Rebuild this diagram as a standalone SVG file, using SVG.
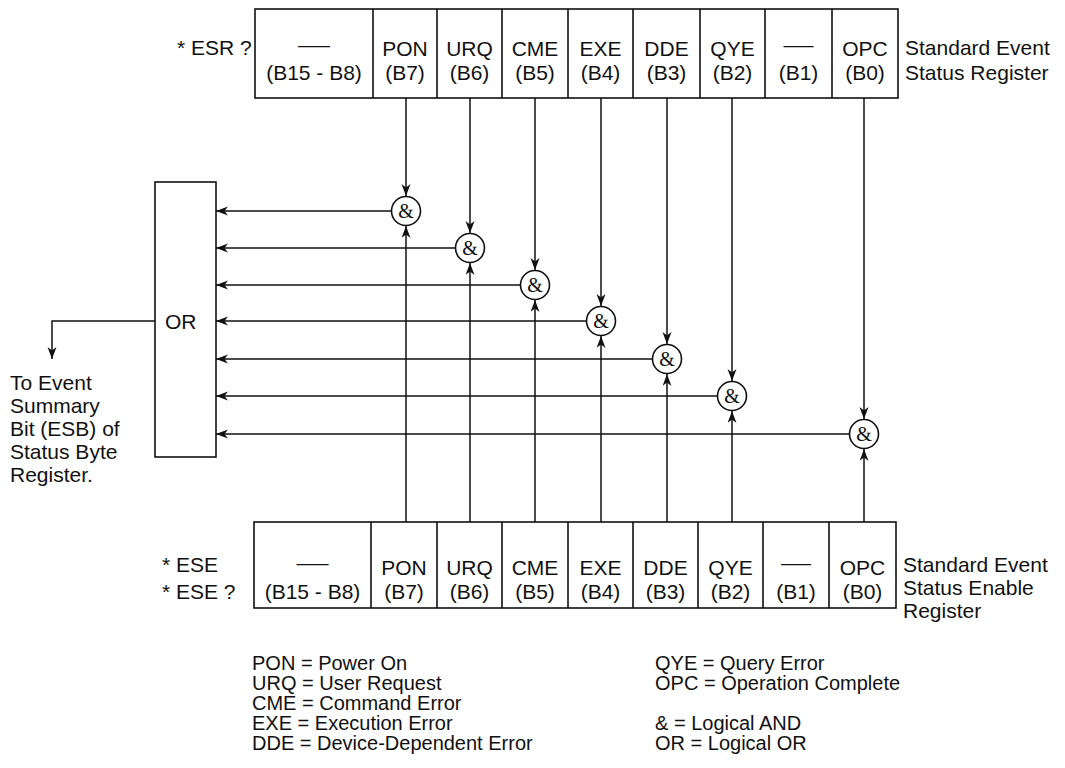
<svg xmlns="http://www.w3.org/2000/svg" width="1065" height="768" viewBox="0 0 1065 768">
<style>
  .box{fill:none;stroke:#111;stroke-width:1.6}
  .t{font-family:"Liberation Sans","Open Sans",sans-serif;font-size:21px;fill:#111}
  .c{text-anchor:middle}
  .lg{font-family:"Liberation Sans","Open Sans",sans-serif;font-size:20px;fill:#111}
  .amp{font-family:"Liberation Serif","DejaVu Serif",serif;font-size:20px;fill:#111;text-anchor:middle}
  .gate{fill:#fff;stroke:#111;stroke-width:1.6}
  .ln{fill:none;stroke:#111;stroke-width:1.5;marker-end:url(#arr)}
</style>
<defs>
  <marker id="arr" markerUnits="userSpaceOnUse" markerWidth="13" markerHeight="10" refX="12" refY="4.5" orient="auto">
    <path d="M0,0 L12,4.5 L0,9 L3.5,4.5 z" fill="#111"/>
  </marker>
</defs>
<rect width="1065" height="768" fill="#fff"/>

<g id="connectors">
  <line class="ln" x1="406" y1="98" x2="406" y2="196"/>
  <line class="ln" x1="470" y1="98" x2="470" y2="233"/>
  <line class="ln" x1="535" y1="98" x2="535" y2="270"/>
  <line class="ln" x1="601" y1="98" x2="601" y2="306"/>
  <line class="ln" x1="667" y1="98" x2="667" y2="344"/>
  <line class="ln" x1="732" y1="98" x2="732" y2="381"/>
  <line class="ln" x1="864" y1="98" x2="864" y2="419"/>
  <line class="ln" x1="406" y1="522" x2="406" y2="226"/>
  <line class="ln" x1="470" y1="522" x2="470" y2="263"/>
  <line class="ln" x1="535" y1="522" x2="535" y2="300"/>
  <line class="ln" x1="601" y1="522" x2="601" y2="336"/>
  <line class="ln" x1="667" y1="522" x2="667" y2="374"/>
  <line class="ln" x1="732" y1="522" x2="732" y2="411"/>
  <line class="ln" x1="864" y1="522" x2="864" y2="449"/>
  <line class="ln" x1="391" y1="211" x2="216" y2="211"/>
  <line class="ln" x1="455" y1="248" x2="216" y2="248"/>
  <line class="ln" x1="520" y1="285" x2="216" y2="285"/>
  <line class="ln" x1="586" y1="321" x2="216" y2="321"/>
  <line class="ln" x1="652" y1="359" x2="216" y2="359"/>
  <line class="ln" x1="717" y1="396" x2="216" y2="396"/>
  <line class="ln" x1="849" y1="434" x2="216" y2="434"/>
  <polyline class="ln" points="155,321 52,321 52,359"/>
</g>

<g id="esr-register">
  <rect class="box" x="255" y="9" width="643" height="89"/>
  <path class="box" d="M373,9V98 M437,9V98 M502,9V98 M568,9V98 M633,9V98 M700,9V98 M765,9V98 M832,9V98"/>
  <text class="t c" x="314" y="52" textLength="32" lengthAdjust="spacingAndGlyphs">—</text>
  <text class="t c" x="314" y="80">(B15 - B8)</text>
  <text class="t c" x="405" y="56">PON</text><text class="t c" x="405" y="80">(B7)</text>
  <text class="t c" x="469.5" y="56">URQ</text><text class="t c" x="469.5" y="80">(B6)</text>
  <text class="t c" x="535" y="56">CME</text><text class="t c" x="535" y="80">(B5)</text>
  <text class="t c" x="600.5" y="56">EXE</text><text class="t c" x="600.5" y="80">(B4)</text>
  <text class="t c" x="666.5" y="56">DDE</text><text class="t c" x="666.5" y="80">(B3)</text>
  <text class="t c" x="732.5" y="56">QYE</text><text class="t c" x="732.5" y="80">(B2)</text>
  <text class="t c" x="798.5" y="52" textLength="30" lengthAdjust="spacingAndGlyphs">—</text>
  <text class="t c" x="798.5" y="80">(B1)</text>
  <text class="t c" x="865" y="56">OPC</text><text class="t c" x="865" y="80">(B0)</text>
</g>
<g id="esr-label">
  <text class="t" x="177" y="55">* ESR ?</text>
  <text class="t" x="905" y="55">Standard Event</text>
  <text class="t" x="905" y="80">Status Register</text>
</g>

<g id="ese-register">
  <rect class="box" x="254" y="522" width="642" height="86"/>
  <path class="box" d="M371,522V608 M437,522V608 M502,522V608 M568,522V608 M633,522V608 M698,522V608 M763,522V608 M829,522V608"/>
  <text class="t c" x="312.5" y="570" textLength="32" lengthAdjust="spacingAndGlyphs">—</text>
  <text class="t c" x="312.5" y="599">(B15 - B8)</text>
  <text class="t c" x="404" y="575">PON</text><text class="t c" x="404" y="599">(B7)</text>
  <text class="t c" x="469.5" y="575">URQ</text><text class="t c" x="469.5" y="599">(B6)</text>
  <text class="t c" x="535" y="575">CME</text><text class="t c" x="535" y="599">(B5)</text>
  <text class="t c" x="600.5" y="575">EXE</text><text class="t c" x="600.5" y="599">(B4)</text>
  <text class="t c" x="665.5" y="575">DDE</text><text class="t c" x="665.5" y="599">(B3)</text>
  <text class="t c" x="730.5" y="575">QYE</text><text class="t c" x="730.5" y="599">(B2)</text>
  <text class="t c" x="796" y="570" textLength="30" lengthAdjust="spacingAndGlyphs">—</text>
  <text class="t c" x="796" y="599">(B1)</text>
  <text class="t c" x="862.5" y="575">OPC</text><text class="t c" x="862.5" y="599">(B0)</text>
</g>
<g id="ese-label">
  <text class="t" x="162" y="572">* ESE</text>
  <text class="t" x="162" y="599">* ESE ?</text>
  <text class="t" x="903" y="572">Standard Event</text>
  <text class="t" x="903" y="595">Status Enable</text>
  <text class="t" x="903" y="618">Register</text>
</g>

<g id="gate-pon"><circle class="gate" cx="406" cy="211" r="14.5"/><text class="amp" x="406" y="218">&amp;</text></g>
<g id="gate-urq"><circle class="gate" cx="470" cy="248" r="14.5"/><text class="amp" x="470" y="255">&amp;</text></g>
<g id="gate-cme"><circle class="gate" cx="535" cy="285" r="14.5"/><text class="amp" x="535" y="292">&amp;</text></g>
<g id="gate-exe"><circle class="gate" cx="601" cy="321" r="14.5"/><text class="amp" x="601" y="328">&amp;</text></g>
<g id="gate-dde"><circle class="gate" cx="667" cy="359" r="14.5"/><text class="amp" x="667" y="366">&amp;</text></g>
<g id="gate-qye"><circle class="gate" cx="732" cy="396" r="14.5"/><text class="amp" x="732" y="403">&amp;</text></g>
<g id="gate-opc"><circle class="gate" cx="864" cy="434" r="14.5"/><text class="amp" x="864" y="441">&amp;</text></g>

<g id="or-gate">
  <rect class="box" x="155" y="182" width="61" height="275"/>
  <text class="t" x="165" y="329">OR</text>
</g>

<g id="esb-label">
  <text class="t" x="10" y="390">To Event</text>
  <text class="t" x="10" y="413">Summary</text>
  <text class="t" x="10" y="436">Bit (ESB) of</text>
  <text class="t" x="10" y="459">Status Byte</text>
  <text class="t" x="10" y="482">Register.</text>
</g>

<g id="legend">
  <text class="lg" x="252" y="670">PON = Power On</text>
  <text class="lg" x="252" y="690">URQ = User Request</text>
  <text class="lg" x="252" y="710">CME = Command Error</text>
  <text class="lg" x="252" y="730">EXE = Execution Error</text>
  <text class="lg" x="252" y="750">DDE = Device-Dependent Error</text>
  <text class="lg" x="655" y="670">QYE = Query Error</text>
  <text class="lg" x="655" y="690">OPC = Operation Complete</text>
  <text class="lg" x="655" y="730">&amp; = Logical AND</text>
  <text class="lg" x="655" y="750">OR = Logical OR</text>
</g>
</svg>
